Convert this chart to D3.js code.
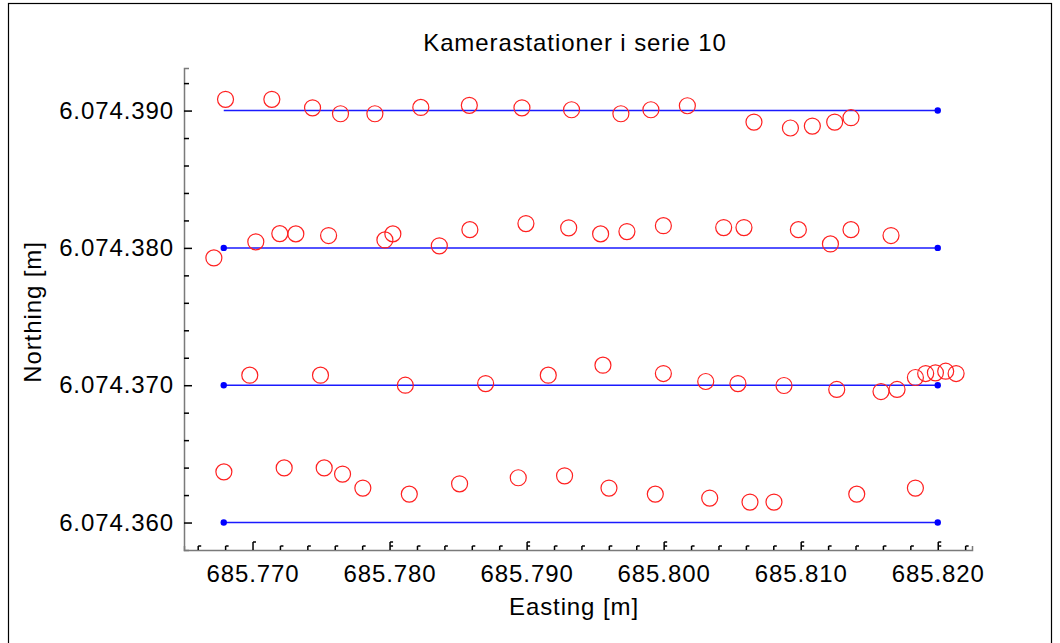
<!DOCTYPE html>
<html>
<head>
<meta charset="utf-8">
<script src="https://cdn.jsdelivr.net/npm/d3@7"></script>
<style>
  body { margin: 0; background: #fff; }
  svg { display: block; font-family: "Liberation Sans", Arial, sans-serif; }
  text { letter-spacing: 0.9px; }
  .station { fill: none; stroke: #ff2020; stroke-width: 1.2; }
  .strip { stroke: #1a1aff; stroke-width: 1.5; }
  .end { fill: #0000ff; }
  .axis text { font-size: 24px; fill: #000; font-family: "Liberation Sans", Arial, sans-serif; }
  .axis .domain { stroke: #7a7a7a; stroke-width: 1.5; }
  .axis .tick line { stroke: #000; stroke-width: 1.5; }
</style>
</head>
<body>
<svg width="1060" height="643"></svg>
<script>
// kamerastationer, 4 striber (serie 10)
const east1 = [685768.03, 685771.41, 685774.38, 685776.42, 685778.93, 685782.28, 685785.82, 685789.66, 685793.28,
  685796.88, 685799.07, 685801.73, 685806.59, 685809.25, 685810.85, 685812.48, 685813.67]
const north1 = [6074390.82, 6074390.82, 6074390.20, 6074389.77, 6074389.77, 6074390.23, 6074390.38, 6074390.20, 6074390.06,
  6074389.77, 6074390.06, 6074390.35, 6074389.16, 6074388.73, 6074388.87, 6074389.16, 6074389.48]

const east2 = [685767.18, 685770.24, 685771.99, 685773.16, 685775.55, 685779.66, 685780.24, 685783.63, 685785.86, 685789.95,
  685793.07, 685795.40, 685797.32, 685799.98, 685804.38, 685805.86, 685809.83, 685812.17, 685813.67, 685816.59]
const north2 = [6074379.27, 6074380.44, 6074381.04, 6074381.02, 6074380.90, 6074380.58, 6074381.02, 6074380.15, 6074381.33, 6074381.77,
  6074381.46, 6074381.02, 6074381.19, 6074381.62, 6074381.48, 6074381.48, 6074381.33, 6074380.29, 6074381.33, 6074380.90]

const east3 = [685769.80, 685774.96, 685781.15, 685787.01, 685791.58, 685795.57, 685799.98, 685803.07, 685805.42,
  685808.78, 685812.63, 685815.86, 685817.03, 685818.37, 685819.12, 685819.83, 685820.58, 685821.34]
const north3 = [6074370.73, 6074370.73, 6074370.00, 6074370.12, 6074370.73, 6074371.46, 6074370.85, 6074370.27, 6074370.12,
  6074369.98, 6074369.69, 6074369.54, 6074369.69, 6074370.56, 6074370.85, 6074370.90, 6074371.02, 6074370.85]

const east4 = [685767.91, 685772.31, 685775.23, 685776.57, 685778.05, 685781.44, 685785.11, 685789.39, 685792.77,
  685796.01, 685799.39, 685803.36, 685806.30, 685808.05, 685814.09, 685818.37]
const north4 = [6074363.69, 6074363.98, 6074363.98, 6074363.53, 6074362.51, 6074362.07, 6074362.82, 6074363.26, 6074363.40,
  6074362.51, 6074362.07, 6074361.78, 6074361.49, 6074361.49, 6074362.07, 6074362.51]

// planlagte striber
const stripNorth = [6074390, 6074380, 6074370, 6074360]
const stripStart = [685767.9, 685767.9, 685767.9, 685767.9]
const stripEnd = [685820, 685820, 685820, 685820]
const startDot = [false, true, true, true]

const xMajor = [685770, 685780, 685790, 685800, 685810, 685820]
const xMinor = [685766, 685768, 685772, 685774, 685776, 685778, 685782, 685784, 685786, 685788, 685792, 685794,
  685796, 685798, 685802, 685804, 685806, 685808, 685812, 685814, 685816, 685818, 685822]
const yMajor = [6074360, 6074370, 6074380, 6074390]
const yMinor = [6074362, 6074364, 6074366, 6074368, 6074372, 6074374, 6074376, 6074378, 6074382, 6074384,
  6074386, 6074388, 6074392]

const svg = d3.select('svg')

const locale = d3.formatLocale({decimal: ',', thousands: '.', grouping: [3], currency: ['', ' kr.']})
const fmt = locale.format(',d')

const x = d3.scaleLinear().domain([685765, 685822.5]).range([184, 972])
const y = d3.scaleLinear().domain([6074358, 6074393.1]).range([550, 68])

// ramme
svg.append('rect').attr('x', 8.5).attr('y', 3.5).attr('width', 1043).attr('height', 700)
  .attr('fill', 'none').attr('stroke', '#000').attr('stroke-width', 1.2)

svg.append('text').attr('x', 575).attr('y', 51).attr('text-anchor', 'middle')
  .attr('font-size', 24).text('Kamerastationer i serie 10')

// akser
const gx = svg.append('g').attr('class', 'axis').attr('transform', 'translate(0,550)')
gx.call(d3.axisBottom(x).tickValues(xMinor).tickSizeInner(-4).tickSizeOuter(-4).tickFormat(''))
gx.selectAll('.tick').append('line').attr('x1', 0).attr('x2', 3).attr('y1', -4).attr('y2', -4)
const gx2 = svg.append('g').attr('class', 'axis').attr('transform', 'translate(0,550)')
gx2.call(d3.axisBottom(x).tickValues(xMajor).tickSizeInner(-8).tickSizeOuter(0).tickPadding(22).tickFormat(fmt))
gx2.select('.domain').remove()
gx2.selectAll('.tick').append('line').attr('x1', 0).attr('x2', 3).attr('y1', -8).attr('y2', -8)
gx2.selectAll('.tick').filter((d, i) => i > 0).append('line').attr('x1', 0).attr('x2', 3).attr('y1', -4).attr('y2', -4)
gx2.selectAll('.tick text').attr('dy', '0.35em').attr('y', 24)

const gy = svg.append('g').attr('class', 'axis').attr('transform', 'translate(184,0)')
gy.call(d3.axisLeft(y).tickValues(yMinor).tickSizeInner(-5).tickSizeOuter(-5).tickFormat(''))
const gy2 = svg.append('g').attr('class', 'axis').attr('transform', 'translate(184,0)')
gy2.call(d3.axisLeft(y).tickValues(yMajor).tickSizeInner(-8).tickSizeOuter(0).tickPadding(19).tickFormat(fmt))
gy2.select('.domain').remove()
gy2.selectAll('.tick text').attr('x', -10)

svg.append('text').attr('x', 574).attr('y', 615).attr('text-anchor', 'middle')
  .attr('font-size', 24).text('Easting [m]')
svg.append('text').attr('transform', 'translate(41,312) rotate(-90)').attr('text-anchor', 'middle')
  .attr('font-size', 24).text('Northing [m]')

// striber
const strips = stripNorth.map((n, i) => ({n, x0: stripStart[i], x1: stripEnd[i], dot0: startDot[i]}))
svg.selectAll('.strip').data(strips).join('line').attr('class', 'strip')
  .attr('x1', d => x(d.x0)).attr('x2', d => x(d.x1))
  .attr('y1', d => y(d.n)).attr('y2', d => y(d.n))
const dots = strips.flatMap(d => (d.dot0 ? [{e: d.x0, n: d.n}] : []).concat([{e: d.x1, n: d.n}]))
svg.selectAll('.end').data(dots).join('circle').attr('class', 'end')
  .attr('cx', d => x(d.e)).attr('cy', d => y(d.n)).attr('r', 3.2)

// stationer
const rows = [[east1, north1], [east2, north2], [east3, north3], [east4, north4]]
const stations = rows.flatMap(([e, n]) => e.map((v, i) => ({e: v, n: n[i]})))
svg.selectAll('.station').data(stations).join('circle').attr('class', 'station')
  .attr('cx', d => x(d.e)).attr('cy', d => y(d.n)).attr('r', 8)
</script>
</body>
</html>
